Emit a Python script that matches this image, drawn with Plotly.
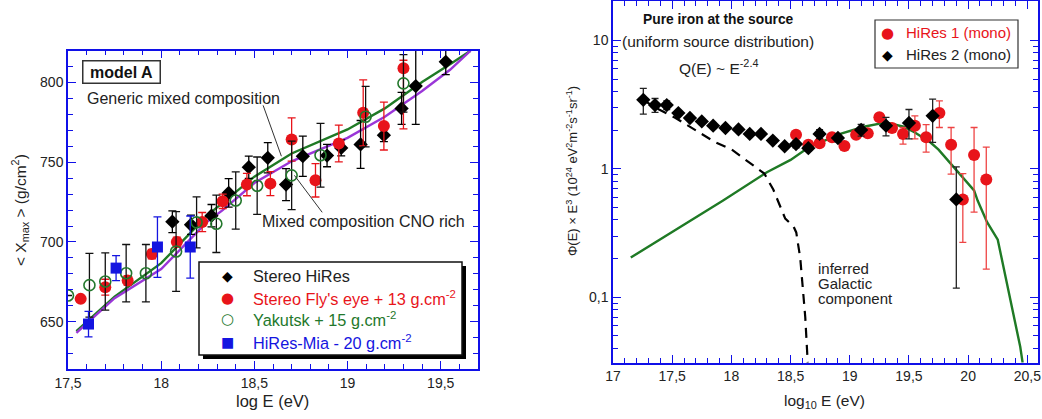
import plotly.graph_objects as go

W, H = 1042, 419
FONT = "Liberation Sans, Arial, Helvetica, sans-serif"
GLYPH_FONT = "DejaVu Sans"
AXIS_BLUE = "#1010e8"
TXT = "#222222"
RED = "#e8141a"
GREEN = "#23782c"
BLUE = "#1414e0"

# ---------------- left panel: <Xmax> vs log E ----------------
hires_x = [18.06, 18.16, 18.27, 18.362, 18.47, 18.572, 18.67, 18.76, 18.89, 18.966,
           19.07, 19.195, 19.29, 19.366, 19.527]
hires_y = [712.7, 710.8, 716.5, 730.8, 746.9, 752.8, 736.0, 753.8, 754.2, 759.0,
           761.2, 767.0, 783.8, 797.8, 813.0]
hires_err = [6.8, 6, 7, 9, 7, 9.5, 10, 12.6, 7, 5, 15, 4, 10, 24, 8]

fly_x = [17.568, 17.70, 17.82, 17.95, 18.084, 18.22, 18.33, 18.46, 18.586, 18.70,
         18.828, 18.953, 19.084, 19.195, 19.30]
fly_y = [664.3, 671.6, 675.8, 692.4, 700.0, 712.5, 725.5, 736.0, 736.6, 764.3,
         738.7, 761.8, 781.0, 772.7, 809.0]
fly_err_plus = [2, 5, 3, 3, 3, 6, 4.5, 7, 7.5, 13.6, 10.5, 11.5, 20.7, 15, 5]
fly_err_minus = [2, 5, 3, 3, 3, 6, 4.5, 7, 7.5, 13.6, 10.5, 11.5, 20.7, 15, 38]

yak_x = [17.50, 17.615, 17.70, 17.812, 17.918, 18.08, 18.19, 18.296, 18.40, 18.515,
         18.70, 18.855, 19.097, 19.30]
yak_y = [666.4, 672.9, 675.2, 680.4, 680.4, 694.0, 712.3, 711.4, 726.0, 735.3,
         741.8, 754.4, 778.6, 799.5]
yak_err = [0, 20, 18, 18, 18, 25, 16, 18, 18, 18, 21.5, 20, 19, 18]

mia_x = [17.61, 17.758, 17.98, 18.156]
mia_y = [648.5, 683.6, 696.8, 696.8]
mia_err = [8, 7.8, 19, 19.5]

model_x = [17.545, 17.75, 18.0, 18.25, 18.33, 18.5, 18.7, 19.0, 19.2, 19.4, 19.55, 19.66]
generic_y = [644, 665.7, 686.7, 717, 724.5, 741, 755.5, 770.6, 783.8, 800.3, 811.5, 820]
cno_y = [643, 664.7, 683, 713, 720, 737, 750.6, 765.3, 778.6, 794.7, 808, 820]

left_xticks = [17.5, 18, 18.5, 19, 19.5]
left_xlabels = ["17,5", "18", "18,5", "19", "19,5"]
left_yticks = [650, 700, 750, 800]
left_ylabels = ["650", "700", "750", "800"]

left_legend_labels = ["Stereo HiRes",
                      "Stereo Fly's eye + 13 g.cm<sup>-2</sup>",
                      "Yakutsk + 15 g.cm<sup>-2</sup>",
                      "HiRes-Mia - 20 g.cm<sup>-2</sup>"]

# ---------------- right panel: flux x E^3 ----------------
hr2_x = [17.256, 17.355, 17.454, 17.552, 17.65, 17.75, 17.846, 17.95, 18.06, 18.155,
         18.25, 18.35, 18.45, 18.546, 18.65, 18.745, 18.90, 19.096, 19.306, 19.50,
         19.70, 19.90]
hr2_y = [3.45, 3.14, 3.14, 2.72, 2.49, 2.34, 2.17, 2.08, 2.03, 1.87,
         1.87, 1.66, 1.50, 1.56, 1.45, 1.87, 1.74, 2.01, 2.17, 2.28,
         2.59, 0.578]
hr2_err_plus = [0.79, 0.39, 0.24, 0.1, 0.08, 0.08, 0.07, 0.07, 0.07, 0.07,
                0.07, 0.07, 0.07, 0.1, 0.07, 0.15, 0.12, 0.21, 0.35, 0.62,
                0.9, 0.46]
hr2_err_minus = [0.78, 0.39, 0.24, 0.1, 0.08, 0.08, 0.07, 0.07, 0.07, 0.07,
                 0.07, 0.07, 0.07, 0.1, 0.07, 0.15, 0.12, 0.21, 0.36, 0.57,
                 0.98, 0.46]

hr1_x = [18.546, 18.65, 18.745, 18.85, 18.955, 19.054, 19.152, 19.25, 19.357, 19.45,
         19.55, 19.645, 19.757, 19.856, 19.955, 20.05, 20.153]
hr1_y = [1.84, 1.54, 1.58, 1.76, 1.51, 1.84, 1.89, 2.52, 2.08, 1.87,
         2.17, 1.76, 2.72, 1.54, 0.578, 1.28, 0.826]
hr1_err_plus = [0.06, 0.06, 0.06, 0.06, 0.06, 0.06, 0.06, 0.1, 0.1, 0.23,
                0.42, 0.45, 0.67, 0.56, 0.34, 0.82, 0.65]
hr1_err_minus = [0.06, 0.06, 0.06, 0.06, 0.06, 0.06, 0.06, 0.1, 0.1, 0.31,
                 0.46, 0.41, 0.62, 0.63, 0.31, 0.82, 0.66]

iron_x = [17.15, 17.93, 18.30, 18.50, 18.654, 18.92, 19.118, 19.306, 19.455, 19.55,
          19.68, 19.75, 19.88, 20.05, 20.08, 20.16, 20.25, 20.44, 20.46]
iron_y = [0.204, 0.567, 0.942, 1.175, 1.472, 1.871, 2.128, 2.301, 2.128, 1.92,
          1.611, 1.41, 1.028, 0.679, 0.567, 0.385, 0.281, 0.0412, 0.031]

gal_x = [17.254, 17.355, 17.525, 17.71, 17.855, 18.004, 18.142, 18.278, 18.354, 18.413,
         18.455, 18.525, 18.548, 18.582, 18.607, 18.624, 18.645]
gal_y = [3.45, 3.01, 2.50, 1.96, 1.63, 1.41, 1.14, 0.92, 0.69, 0.50,
         0.41, 0.356, 0.32, 0.201, 0.1135, 0.070, 0.031]

right_xticks = [17, 17.5, 18, 18.5, 19, 19.5, 20, 20.5]
right_xlabels = ["17", "17,5", "18", "18,5", "19", "19,5", "20", "20,5"]
right_yticks = [0.1, 1, 10]
right_ylabels = ["0,1", "1", "10"]

right_legend_labels = ["HiRes 1 (mono)", "HiRes 2 (mono)"]


def px(x):
    return x / W


def py(y):
    return 1 - y / H


fig = go.Figure()

# left panel model curves
fig.add_trace(go.Scatter(x=model_x, y=generic_y, mode="lines", xaxis="x", yaxis="y",
                         line=dict(color="#1f7a25", width=2.4)))
fig.add_trace(go.Scatter(x=model_x, y=cno_y, mode="lines", xaxis="x", yaxis="y",
                         line=dict(color="#9a36d8", width=2.4)))

# left panel data sets
fig.add_trace(go.Scatter(
    x=hires_x, y=hires_y, mode="markers", xaxis="x", yaxis="y",
    marker=dict(symbol="diamond", size=11, color="black"),
    error_y=dict(type="data", array=hires_err, color="black", thickness=1.3, width=4)))
fig.add_trace(go.Scatter(
    x=fly_x, y=fly_y, mode="markers", xaxis="x", yaxis="y",
    marker=dict(symbol="circle", size=12, color=RED),
    error_y=dict(type="data", array=fly_err_plus, arrayminus=fly_err_minus,
                 color=RED, thickness=1.3, width=4)))
fig.add_trace(go.Scatter(
    x=yak_x, y=yak_y, mode="markers", xaxis="x", yaxis="y",
    marker=dict(symbol="circle-open", size=11, color=GREEN, line=dict(width=1.6)),
    error_y=dict(type="data", array=yak_err, color="#111111", thickness=1.3, width=4)))
fig.add_trace(go.Scatter(
    x=mia_x, y=mia_y, mode="markers", xaxis="x", yaxis="y",
    marker=dict(symbol="square", size=11, color=BLUE),
    error_y=dict(type="data", array=mia_err, color=BLUE, thickness=1.3, width=4)))

# right panel curves
fig.add_trace(go.Scatter(x=iron_x, y=iron_y, mode="lines", xaxis="x2", yaxis="y2",
                         line=dict(color="#1f7a25", width=2.4)))
fig.add_trace(go.Scatter(x=gal_x, y=gal_y, mode="lines", xaxis="x2", yaxis="y2",
                         line=dict(color="black", width=2.2, dash="10px,7px")))

# right panel data sets
fig.add_trace(go.Scatter(
    x=hr1_x, y=hr1_y, mode="markers", xaxis="x2", yaxis="y2",
    marker=dict(symbol="circle", size=12, color=RED),
    error_y=dict(type="data", array=hr1_err_plus, arrayminus=hr1_err_minus,
                 color="#ee4444", thickness=1.3, width=3.5)))
fig.add_trace(go.Scatter(
    x=hr2_x, y=hr2_y, mode="markers", xaxis="x2", yaxis="y2",
    marker=dict(symbol="diamond", size=11, color="black"),
    error_y=dict(type="data", array=hr2_err_plus, arrayminus=hr2_err_minus,
                 color="#222222", thickness=1.3, width=3.5)))

axis_common = dict(showline=True, linecolor=AXIS_BLUE, linewidth=1.5, mirror="allticks",
                   ticks="inside", ticklen=8, tickwidth=1.3, tickcolor=AXIS_BLUE,
                   showgrid=False, zeroline=False, automargin=False,
                   tickfont=dict(family=FONT, size=14, color=TXT))

fig.update_layout(
    width=W, height=H, margin=dict(l=0, r=0, t=0, b=0, autoexpand=False),
    paper_bgcolor="white", plot_bgcolor="white", showlegend=False,
    font=dict(family=FONT, size=14, color=TXT),
    xaxis=dict(domain=[px(68), px(478)], range=[17.5, 19.70], anchor="y",
               tickmode="array", tickvals=left_xticks, ticktext=left_xlabels,
               minor=dict(dtick=0.1, tick0=17.5, ticks="inside", ticklen=5,
                          tickcolor=AXIS_BLUE, showgrid=False),
               **axis_common),
    yaxis=dict(domain=[py(369), py(50.7)], range=[620.3, 820], anchor="x",
               tickmode="array", tickvals=left_yticks, ticktext=left_ylabels,
               minor=dict(dtick=10, tick0=600, ticks="inside", ticklen=5,
                          tickcolor=AXIS_BLUE, showgrid=False),
               **axis_common),
    xaxis2=dict(domain=[px(613), px(1038)], range=[17.0, 20.59], anchor="y2",
                tickmode="array", tickvals=right_xticks, ticktext=right_xlabels,
                minor=dict(dtick=0.1, tick0=17, ticks="inside", ticklen=5,
                           tickcolor=AXIS_BLUE, showgrid=False),
                **axis_common),
    yaxis2=dict(domain=[py(362.7), py(1)], type="log", range=[-1.509, 1.307], anchor="x2",
                tickmode="array", tickvals=right_yticks, ticktext=right_ylabels,
                minor=dict(dtick="D1", ticks="inside", ticklen=5,
                           tickcolor=AXIS_BLUE, showgrid=False),
                **axis_common),
)

# ---- legend boxes (drawn as shapes + text) ----
shapes = []
# left legend: drop shadow, then framed white box
shapes.append(dict(type="rect", xref="paper", yref="paper", layer="above",
                   x0=px(203), x1=px(466), y0=py(359), y1=py(266),
                   fillcolor="black", line=dict(width=0)))
shapes.append(dict(type="rect", xref="paper", yref="paper", layer="above",
                   x0=px(199), x1=px(462), y0=py(355), y1=py(262),
                   fillcolor="white", line=dict(color="#111111", width=1.5)))
# right legend frame
shapes.append(dict(type="rect", xref="paper", yref="paper", layer="above",
                   x0=px(875), x1=px(1018), y0=py(68), y1=py(20),
                   fillcolor="white", line=dict(color="#333333", width=1.2)))
# pointer lines from the curve labels
shapes.append(dict(type="line", xref="x", yref="y", x0=18.547, y0=785.7, x1=18.645,
                   y1=753.8, line=dict(color="#333", width=1)))
shapes.append(dict(type="line", xref="x", yref="y", x0=18.864, y0=718.6, x1=18.715,
                   y1=741.8, line=dict(color="#333", width=1)))
fig.update_layout(shapes=shapes)

C = dict(xanchor="center", yanchor="middle", showarrow=False,
         xref="paper", yref="paper")
L = dict(xanchor="left", yanchor="middle", showarrow=False,
         xref="paper", yref="paper")
ann = []

# left legend entries
left_rows = [276, 297.5, 319, 341.5]
left_glyphs = [("\u25c6", "black", 14), ("\u25cf", RED, 15),
               ("\u25cb", GREEN, 15), ("\u25a0", BLUE, 14)]
left_colors = [TXT, RED, GREEN, BLUE]
for row, (g, gc, gs), lab, tc in zip(left_rows, left_glyphs, left_legend_labels, left_colors):
    ann.append(dict(x=px(227), y=py(row), **C, text=g,
                    font=dict(family=GLYPH_FONT, size=gs, color=gc)))
    ann.append(dict(x=px(251), y=py(row), **L, text=lab,
                    font=dict(size=16.3, color=tc)))

# right legend entries
right_rows = [33, 55]
right_glyphs = [("\u25cf", RED, 15), ("\u25c6", "black", 14)]
right_colors = [RED, TXT]
for row, (g, gc, gs), lab, tc in zip(right_rows, right_glyphs, right_legend_labels,
                                     right_colors):
    ann.append(dict(x=px(887), y=py(row), **C, text=g,
                    font=dict(family=GLYPH_FONT, size=gs, color=gc)))
    ann.append(dict(x=px(904), y=py(row), **L, text=lab,
                    font=dict(size=15, color=tc)))

# left panel labels
ann.append(dict(x=px(121), y=py(71.5), **C,
                text="<b>model A</b>", font=dict(size=16, color="#111"),
                bordercolor="#333", borderwidth=1.5, borderpad=2, bgcolor="white",
                width=72))
ann.append(dict(x=17.593, y=790, xref="x", yref="y", xanchor="left", yanchor="middle",
                showarrow=False,
                text="Generic mixed composition", font=dict(size=16, color=TXT)))
ann.append(dict(x=18.532, y=712.9, xref="x", yref="y", xanchor="left", yanchor="middle",
                showarrow=False,
                text="Mixed composition CNO rich", font=dict(size=16, color=TXT)))
ann.append(dict(x=px(272), y=py(401), **C,
                text="log E (eV)", font=dict(size=16.5, color=TXT)))
ann.append(dict(x=px(20), y=py(210), **C, textangle=-90,
                text="&lt; X<sub>max</sub> &gt; (g/cm<sup>2</sup>)",
                font=dict(size=15.5, color=TXT)))

# right panel labels
ann.append(dict(x=px(718), y=py(20), **C,
                text="<b>Pure iron at the source</b>", font=dict(size=13.8, color="#111")))
ann.append(dict(x=px(718), y=py(41), **C,
                text="(uniform source distribution)", font=dict(size=15.5, color=TXT)))
ann.append(dict(x=px(718), y=py(67), **C,
                text="Q(E) ~ E<sup>-2.4</sup>", font=dict(size=15.5, color=TXT)))
for i, line in enumerate(["inferred", "Galactic", "component"]):
    ann.append(dict(x=px(816), y=py(268 + 15 * i), **L, text=line,
                    font=dict(size=15, color=TXT)))
ann.append(dict(x=px(824), y=py(401), **C,
                text="log<sub>10</sub> E (eV)", font=dict(size=15.5, color=TXT)))
ann.append(dict(x=px(572), y=py(171), **C, textangle=-90,
                text="\u03a6(E) \u00d7 E<sup>3</sup> (10<sup>24</sup> eV<sup>2</sup>m<sup>-2</sup>"
                     "s<sup>-1</sup>sr<sup>-1</sup>)",
                font=dict(size=13, color=TXT)))
fig.update_layout(annotations=ann)

fig.write_html("out.html")
